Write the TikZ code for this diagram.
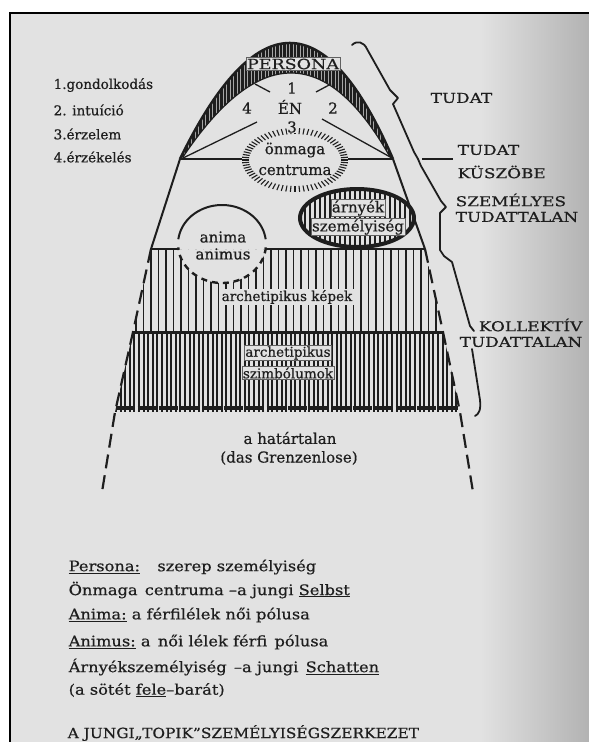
\documentclass[tikz,border=0pt]{standalone}
\usepackage{fontspec}
\setmainfont{DejaVu Serif}[FakeBold=0.6]
\newfontfamily\capsfont[FakeStretch=1.25,FakeBold=0.6]{DejaVu Serif}
\newfontfamily\titlefont[FakeStretch=1.1,FakeBold=0.6]{DejaVu Serif}
\newfontfamily\legfont[FakeStretch=1.12,FakeBold=0.6]{DejaVu Serif}
\definecolor{paper}{HTML}{E2E2E2}
\definecolor{ink}{HTML}{1E1E1E}
\tikzset{
 lbl/.style={font=\fontsize{13.5}{16}\selectfont, text=ink, inner sep=0.5pt},
 leg/.style={font=\legfont\fontsize{14.5}{17}\selectfont, text=ink, inner sep=0.5pt, anchor=west},
 biglbl/.style={font=\fontsize{15}{17}\selectfont, text=ink, inner sep=0.5pt},
 capslbl/.style={font=\capsfont\fontsize{13.5}{16}\selectfont, text=ink, inner sep=0.5pt},
 boxed/.style={fill=paper, draw=ink!70, line width=0.5pt, inner sep=1pt},
 clearbox/.style={fill=paper, inner sep=1.5pt},
 sideline/.style={draw=ink, line width=2pt},
 dashside/.style={draw=ink, line width=2.2pt, dash pattern=on 14pt off 7pt},
 hatchA/.style={draw=ink, line width=1.3pt},
 hatchB/.style={draw=ink, line width=2pt},
 bracket/.style={draw=ink, line width=1.8pt, line join=round, line cap=round},
}
\begin{document}
\begin{tikzpicture}[x=1pt,y=-1pt]
\useasboundingbox (0,0) rectangle (589,742);
% page
\fill[white] (0,0) rectangle (589,742);
\fill[paper] (10,13) rectangle (589,742);
\shade[left color=paper, right color=gray!60] (480,13) rectangle (589,742);
\draw[black, line width=2.5pt] (10,742) -- (10,13) -- (589,13);

% ---- upper hatched region (archetipikus kepek)
\begin{scope}[even odd rule]
 \clip (151,249) -- (425,249) -- (443,332) -- (133,332) -- cycle
   (222,244) ellipse [x radius=44, y radius=39];
 \foreach \x in {136,143.5,...,446} \draw[hatchA] (\x,249) -- (\x,332);
\end{scope}
% ---- lower hatched region (archetipikus szimbolumok)
\begin{scope}
 \clip (133,332) -- (443,332) -- (460,412) -- (115,412) -- cycle;
 \foreach \x in {116,120.6,...,462} \draw[hatchB] (\x,332) -- (\x,412);
\end{scope}
\draw[ink, line width=4pt, dash pattern=on 19pt off 2.5pt] (116,408) -- (459,408);
\draw[ink, line width=3pt] (133,332) -- (443,332);
\draw[ink, line width=1.6pt] (151,249) -- (178.4,249);
\draw[ink, line width=1.6pt] (265.6,249) -- (425,249);

% ---- anima circle
\draw[ink, line width=2pt] plot[domain=187:353, samples=40] ({222+44*cos(\x)},{244+39*sin(\x)});
\draw[ink, line width=2.4pt, dash pattern=on 6pt off 5pt] plot[domain=5:175, samples=40] ({222+44*cos(\x)},{244+39*sin(\x)});
\node[biglbl] (anima) at (223,237) {anima};
\node[biglbl] (animus) at (223,254) {animus};

% ---- sides of the figure
\draw[sideline] (151,249) -- (180,159);
\draw[sideline] (393,159) -- (425,249);
\draw[dashside] (151,249) -- (133,332) -- (115,412) -- (102,492);
\draw[dashside] (425,249) -- (443,332) -- (460,412) -- (473,492);

% ---- horizontal threshold line
\draw[ink, line width=2pt] (180,159) -- (393,159);

% ---- persona band
\def\bandpath{(180,159) .. controls (255.3,4.3) and (326.3,4.3) .. (393,159) -- (390,157) .. controls (327,45) and (258,45) .. (183,157) -- cycle}
\fill[ink] \bandpath;
\begin{scope}
 \clip \bandpath;
 \foreach \x in {181,184.5,...,395} \draw[gray!70, line width=0.7pt] (\x,30) -- (\x,160);
\end{scope}
\draw[ink, line width=2.5pt] (180,159) .. controls (255.3,4.3) and (326.3,4.3) .. (393,159);
\draw[ink, line width=1.2pt] (390,157) .. controls (327,45) and (258,45) .. (183,157);
\node[boxed, font=\capsfont\fontsize{14}{16}\selectfont, text=ink] (persona) at (293,64) {PERSONA};

% ---- functions cross
\draw[ink, line width=1.3pt] (255,84) -- (270,92);
\draw[ink, line width=1.3pt] (316,92) -- (331,84);
\draw[ink, line width=1.3pt] (181,159) -- (257,122);
\draw[ink, line width=1.3pt] (322,119) -- (392,158);
\node[biglbl] (n1) at (292,88) {1};
\node[biglbl] (en) at (290,107) {ÉN};
\node[biglbl] (n4) at (247,108) {4};
\node[biglbl] (n2) at (333,108) {2};

% ---- onmaga centruma
\fill[paper] (295,160) ellipse [x radius=53, y radius=32];
\foreach \a in {0,5,...,355}
  \draw[ink, line width=1.1pt] ({295+46*cos(\a)},{160+26*sin(\a)}) -- ({295+53*cos(\a)},{160+32*sin(\a)});
\node[biglbl] (onmaga) at (295,150) {önmaga};
\node[biglbl] (centruma) at (295,170) {centruma};
\node[biglbl, fill=paper, inner sep=0.3pt] (n3) at (292,127) {3};

% ---- arnyek szemelyiseg
\begin{scope}
 \clip (357,218) ellipse [x radius=57, y radius=29];
 \foreach \x in {300,305,...,416} \draw[ink, line width=1.3pt] (\x,185) -- (\x,250);
\end{scope}
\draw[ink, line width=4pt] (357,218) ellipse [x radius=57, y radius=29];
\node[biglbl, boxed] (arnyek) at (358,208) {árnyék};
\node[biglbl, boxed] (szemelyiseg) at (358,227) {személyiség};

% ---- region labels
\node[lbl, clearbox] (kepek) at (287,297) {archetipikus képek};
\node[lbl, boxed] (archsz) at (288,353) {archetipikus};
\node[lbl, boxed] (szimb) at (288,373) {szimbólumok};
\node[biglbl] (hatartalan) at (290,438) {a határtalan};
\node[biglbl] (grenz) at (289,458) {(das Grenzenlose)};

% ---- left list
\node[lbl, anchor=west] (g1) at (53,85) {1.gondolkodás};
\node[lbl, anchor=west] (g2) at (53,110) {2. intuíció};
\node[lbl, anchor=west] (g3) at (53,134) {3.érzelem};
\node[lbl, anchor=west] (g4) at (53,157) {4.érzékelés};

% ---- right bracket
\draw[bracket] (352,45) .. controls (357,40) and (364,42) .. (367,49) -- (390,90) -- (398,98) -- (393,104)
  -- (414,152) -- (418,159) -- (421,166) -- (441,201) -- (446,207) -- (440,213) -- (440,250)
  -- (444,256) -- (452,262) -- (470,326) -- (474,331);
\draw[bracket] (472,349) -- (480,400) .. controls (481,410) and (479,414) .. (475,416);
\draw[ink, line width=1.5pt] (422,159) -- (453,159);

\node[capslbl, anchor=west] (tudat) at (430,98) {TUDAT};
\node[capslbl, anchor=west] (kusz1) at (457,150) {TUDAT};
\node[capslbl, anchor=west] (kusz2) at (457,172) {KÜSZÖBE};
\node[capslbl, anchor=west] (szem1) at (455,200) {SZEMÉLYES};
\node[capslbl, anchor=west] (szem2) at (455,217) {TUDATTALAN};
\node[capslbl, anchor=east] (koll1) at (583,325) {KOLLEKTÍV};
\node[capslbl, anchor=east] (koll2) at (583,342) {TUDATTALAN};

% ---- legend
\node[leg] (l1) at (68,567) {\underline{Persona:}\hspace{1.2em}szerep személyiség};
\node[leg] (l2) at (68,590) {Önmaga\enspace centruma –a jungi \underline{Selbst}};
\node[leg] (l3) at (68,615) {\underline{Anima:} a férfilélek női pólusa};
\node[leg] (l4) at (68,642) {\underline{Animus:} a\enspace női lélek férfi\enspace pólusa};
\node[leg] (l5) at (68,667) {Árnyékszemélyiség\enspace –a jungi\enspace \underline{Schatten}};
\node[leg] (l6) at (68,690) {(a sötét \underline{fele}–barát)};
\node[anchor=west, inner sep=0.5pt, text=ink, font=\titlefont\fontsize{14}{17}\selectfont] (title) at (67,733) {A JUNGI„TOPIK”SZEMÉLYISÉGSZERKEZET};
\end{tikzpicture}
\end{document}
